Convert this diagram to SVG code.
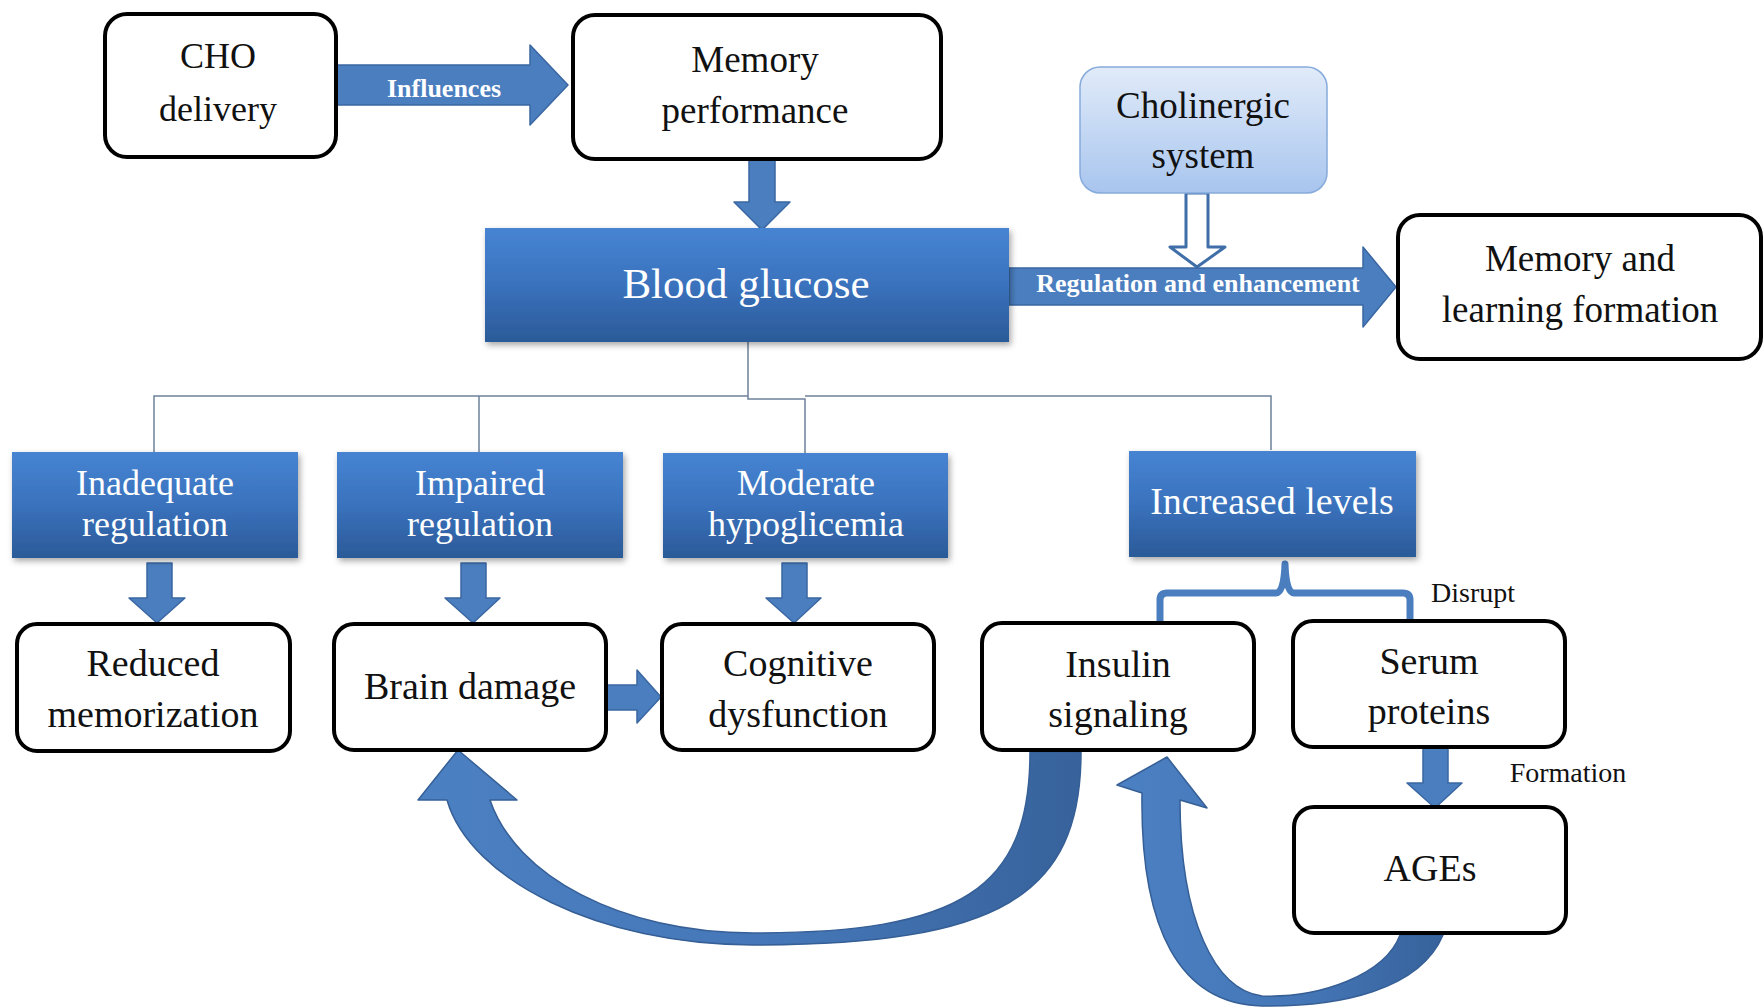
<svg xmlns="http://www.w3.org/2000/svg" width="1764" height="1008" viewBox="0 0 1764 1008">
<defs>
<style>
.t{font-family:"Liberation Serif","Times New Roman",serif;fill:#111;text-anchor:middle}
.w{fill:#fff}
.wb{fill:#fff;stroke:#000;stroke-width:4}
.bb{fill:url(#gBlue);filter:url(#sh)}
.ar{fill:#4a7ebf;stroke:#3a67a2;stroke-width:1.5;stroke-linejoin:round}
.ln{fill:none;stroke:#6d819b;stroke-width:1.5}
.lbl{font-family:"Liberation Serif","Times New Roman",serif;font-weight:bold;font-size:26px;fill:#fff;text-anchor:middle}
</style>
<linearGradient id="gBlue" x1="0" y1="0" x2="0" y2="1">
<stop offset="0" stop-color="#4684d2"/>
<stop offset="0.5" stop-color="#3a72bd"/>
<stop offset="1" stop-color="#2b5a98"/>
</linearGradient>
<linearGradient id="gLight" x1="0" y1="0" x2="0" y2="1">
<stop offset="0" stop-color="#e1ebf9"/>
<stop offset="1" stop-color="#a8c5ee"/>
</linearGradient>
<linearGradient id="gArc" x1="0" y1="0" x2="1" y2="0">
<stop offset="0" stop-color="#4b80c2"/>
<stop offset="0.55" stop-color="#4577b8"/>
<stop offset="1" stop-color="#37629b"/>
</linearGradient>
<filter id="sh" x="-10%" y="-10%" width="125%" height="130%">
<feDropShadow dx="2" dy="3" stdDeviation="3" flood-color="#000" flood-opacity="0.35"/>
</filter>
</defs>
<rect width="1764" height="1008" fill="#fff"/>

<g id="connectors">
<path class="ln" d="M154,452 V396 H748 M479,396 V452 M748,342 V399 H805 V453 M805,396 H1271 V450"/>
<path class="ar" d="M337,65 H530 V45 L568,85 L530,125 V105 H337 Z"/>
<text class="lbl" x="444" y="97">Influences</text>
<path class="ar" d="M749,160 H775 V202 H790 L762,230 L734,202 H749 Z"/>
<path d="M1186,193 H1208 V247 H1225 L1197,267 L1170,247 H1186 Z" fill="#fff" stroke="#3f6ea8" stroke-width="3" stroke-linejoin="round"/>
<path class="ar" d="M1009,268 H1363 V247 L1396,287 L1363,327 V305 H1009 Z"/>
<text class="lbl" x="1198" y="292">Regulation and enhancement</text>
<path class="ar" d="M147,563 H172 V598 H185 L157,623 L129,598 H147 Z"/>
<path class="ar" d="M461,563 H486 V598 H500 L473,623 L445,598 H461 Z"/>
<path class="ar" d="M782,563 H807 V598 H821 L794,623 L766,598 H782 Z"/>
<path class="ar" d="M604,685 H637 V670 L661,697 L637,723 V710 H604 Z"/>
<path d="M1160,622 V600 Q1160,593 1167,593 H1276 Q1284,593 1285,564 Q1286,593 1294,593 H1403 Q1410,593 1410,600 V622" fill="none" stroke="#4a7ebf" stroke-width="7" stroke-linejoin="round"/>
<text class="t" x="1473" y="602" font-size="28">Disrupt</text>
<path class="ar" d="M1423,747 H1448 V783 H1462 L1435,808 L1407,783 H1423 Z"/>
<text class="t" x="1568" y="782" font-size="28">Formation</text>
<path d="M1030,752 L1081,752 C1081,896 999,945 753,945 C 600,945 470,880 447,800 L418,800 L458,750 L517,800 L490,800 C 515,875 620,933 753,933 C 960,933 1030,890 1030,752 Z" fill="url(#gArc)" stroke="#365f96" stroke-width="1.5" stroke-linejoin="round"/>
<path d="M1443,935 C1420,990 1340,1007 1262,1006 C1180,1004 1140,930 1142,793 L1117,785 L1167,757 L1207,808 L1180,800 C1180,920 1215,990 1262,996 C1320,998 1385,975 1400,935 Z" fill="url(#gArc)" stroke="#365f96" stroke-width="1.5" stroke-linejoin="round"/>
</g>

<g id="cho">
<rect class="wb" x="105" y="14" width="231" height="143" rx="22"/>
<text class="t" x="218" y="68" font-size="36">CHO</text>
<text class="t" x="218" y="121" font-size="36">delivery</text>
</g>
<g id="memory-performance">
<rect class="wb" x="573" y="15" width="368" height="144" rx="22"/>
<text class="t" x="755" y="72" font-size="37">Memory</text>
<text class="t" x="755" y="123" font-size="37">performance</text>
</g>
<g id="cholinergic">
<rect x="1080" y="67" width="247" height="126" rx="20" fill="url(#gLight)" stroke="#86aadb" stroke-width="1.5"/>
<text class="t" x="1203" y="118" font-size="37">Cholinergic</text>
<text class="t" x="1203" y="168" font-size="37">system</text>
</g>
<g id="blood-glucose">
<rect class="bb" x="485" y="228" width="524" height="114"/>
<text class="t w" x="746" y="298" font-size="43">Blood glucose</text>
</g>
<g id="memory-learning">
<rect class="wb" x="1398" y="215" width="363" height="144" rx="22"/>
<text class="t" x="1580" y="271" font-size="37">Memory and</text>
<text class="t" x="1580" y="322" font-size="37">learning formation</text>
</g>
<g id="inadequate">
<rect class="bb" x="12" y="452" width="286" height="106"/>
<text class="t w" x="155" y="495" font-size="36">Inadequate</text>
<text class="t w" x="155" y="536" font-size="36">regulation</text>
</g>
<g id="impaired">
<rect class="bb" x="337" y="452" width="286" height="106"/>
<text class="t w" x="480" y="495" font-size="36">Impaired</text>
<text class="t w" x="480" y="536" font-size="36">regulation</text>
</g>
<g id="moderate">
<rect class="bb" x="663" y="453" width="285" height="105"/>
<text class="t w" x="806" y="495" font-size="36">Moderate</text>
<text class="t w" x="806" y="536" font-size="36">hypoglicemia</text>
</g>
<g id="increased">
<rect class="bb" x="1129" y="451" width="287" height="106"/>
<text class="t w" x="1272" y="514" font-size="38">Increased levels</text>
</g>
<g id="reduced">
<rect class="wb" x="17" y="624" width="273" height="127" rx="20"/>
<text class="t" x="153" y="676" font-size="38">Reduced</text>
<text class="t" x="153" y="727" font-size="38">memorization</text>
</g>
<g id="brain-damage">
<rect class="wb" x="334" y="624" width="272" height="126" rx="20"/>
<text class="t" x="470" y="699" font-size="38">Brain damage</text>
</g>
<g id="cognitive">
<rect class="wb" x="662" y="624" width="272" height="126" rx="20"/>
<text class="t" x="798" y="676" font-size="38">Cognitive</text>
<text class="t" x="798" y="727" font-size="38">dysfunction</text>
</g>
<g id="insulin">
<rect class="wb" x="982" y="623" width="272" height="127" rx="20"/>
<text class="t" x="1118" y="677" font-size="38">Insulin</text>
<text class="t" x="1118" y="727" font-size="38">signaling</text>
</g>
<g id="serum">
<rect class="wb" x="1293" y="621" width="272" height="126" rx="20"/>
<text class="t" x="1429" y="674" font-size="38">Serum</text>
<text class="t" x="1429" y="724" font-size="38">proteins</text>
</g>
<g id="ages">
<rect class="wb" x="1294" y="807" width="272" height="126" rx="20"/>
<text class="t" x="1430" y="881" font-size="38">AGEs</text>
</g>
</svg>
